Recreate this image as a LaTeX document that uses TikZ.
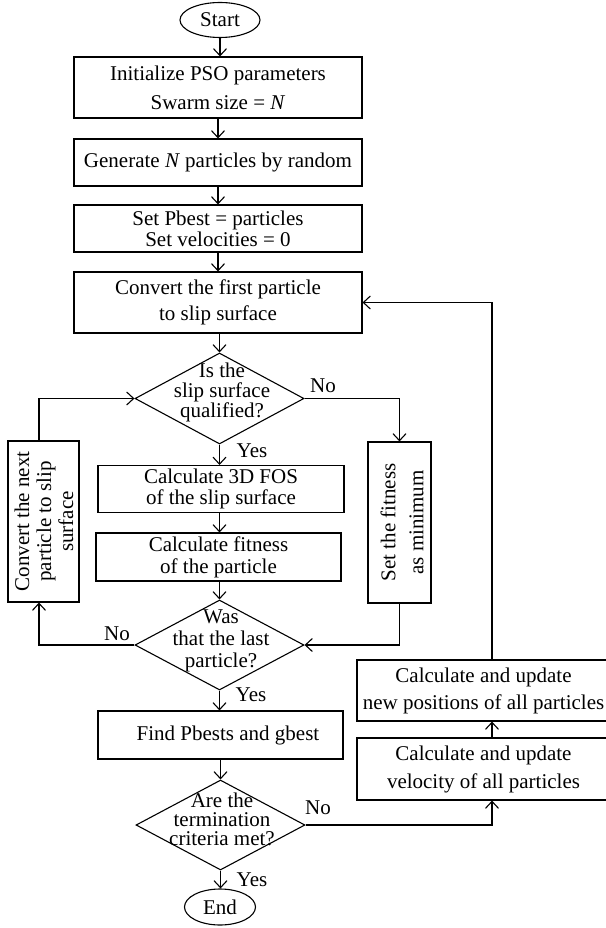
\documentclass[tikz,border=0pt]{standalone}
\usepackage{fontspec}
\setmainfont{Liberation Serif}
\usetikzlibrary{shapes.geometric,arrows.meta,calc}
\begin{document}
\begin{tikzpicture}[x=1pt,y=-1pt,
  every node/.style={inner sep=0pt, font=\fontsize{21}{25}\selectfont},
  box/.style={draw, line width=1.1pt, rectangle, align=center},
  term/.style={draw, line width=1.1pt, ellipse},
  dia/.style={draw, line width=1.1pt, diamond},
  flow/.style={line width=1.1pt, -{Straight Barb[length=7pt,width=13pt]}}]
\useasboundingbox (0,0) rectangle (605,928);

\node[term, minimum width=80pt, minimum height=35pt] (start) at (220,20) {Start};
\node[box, minimum width=288pt, minimum height=61pt, font=\fontsize{21}{29}\selectfont] (init) at (218,87.5) {Initialize PSO parameters\\Swarm size = \textit{N}};
\node[box, minimum width=288pt, minimum height=47pt] (gen) at (218,162.5) {Generate \textit{N} particles by random};
\node[box, minimum width=288pt, minimum height=47pt, font=\fontsize{21}{21}\selectfont] (pbest) at (218,228.5) {Set Pbest = particles\\Set velocities = 0};
\node[box, minimum width=288pt, minimum height=61pt, font=\fontsize{21}{26}\selectfont] (conv1) at (218,302.5) {Convert the first particle\\to slip surface};

\node[dia, minimum width=169pt, minimum height=91pt] (d1) at (219.5,398.5) {};
\node[align=center, font=\fontsize{21}{20}\selectfont] (d1t) at (222,392) {Is the\\slip surface\\qualified?};

\node[box, minimum width=246pt, minimum height=47pt, font=\fontsize{21}{21}\selectfont] (fos) at (221,489) {Calculate 3D FOS\\of the slip surface};
\node[box, minimum width=245pt, minimum height=48pt, font=\fontsize{21}{22}\selectfont] (fit) at (218.5,557) {Calculate fitness\\of the particle};

\node[box, minimum width=63pt, minimum height=161pt] (setmin) at (399.5,522.5) {};
\node[rotate=90, align=center, font=\fontsize{21}{28}\selectfont] (setmint) at (402,522.5) {Set the fitness\\as minimum};
\node[box, minimum width=71pt, minimum height=161pt] (convnext) at (43.5,521.5) {};
\node[rotate=90, align=center, font=\fontsize{21}{22}\selectfont] (convnextt) at (44,521.5) {Convert the next\\particle to slip\\surface};

\node[dia, minimum width=169pt, minimum height=90pt] (d2) at (219.5,645) {};
\node[align=center, font=\fontsize{21}{22}\selectfont] (d2t) at (221,641) {Was\\that the last\\particle?};

\node[box, minimum width=245pt, minimum height=48pt] (find) at (220.5,735) {\hspace*{15pt}Find Pbests and gbest};
\node[dia, minimum width=169pt, minimum height=90pt] (d3) at (220.5,825) {};
\node[align=center, font=\fontsize{21}{19}\selectfont] (d3t) at (222,819) {Are the\\termination\\criteria met?};
\node[term, minimum width=71pt, minimum height=36pt] (end) at (220,907) {End};

\node[box, minimum width=253pt, minimum height=61pt, font=\fontsize{21}{27}\selectfont] (pos) at (483.5,690.5) {Calculate and update\\new positions of all particles};
\node[box, minimum width=253pt, minimum height=62pt, font=\fontsize{21}{28}\selectfont] (vel) at (483.5,769) {Calculate and update\\velocity of all particles};

\coordinate (fbx) at (492,0);

\draw[flow] (start.south) -- (start.south |- init.north);
\draw[flow] (init.south) -- (gen.north);
\draw[flow] (gen.south) -- (pbest.north);
\draw[flow] (pbest.south) -- (conv1.north);
\draw[flow] (conv1.south -| d1.north) -- (d1.north);
\draw[flow] (d1.east) -| (setmin.north);
\draw[flow] (d1.south) -- (d1.south |- fos.north);
\draw[flow] (d1.south |- fos.south) -- (d1.south |- fit.north);
\draw[flow] (d1.south |- fit.south) -- (d2.north);
\draw[flow] (setmin.south) |- (d2.east);
\draw[flow] (d2.west) -| ([xshift=-4.5pt]convnext.south);
\draw[flow] ([xshift=-4.5pt]convnext.north) |- (d1.west);
\draw[flow] (d2.south) -- (d2.south |- find.north);
\draw[flow] (find.south -| d3.north) -- (d3.north);
\draw[flow] (d3.east) -| (fbx |- vel.south);
\draw[flow] (fbx |- vel.north) -- (fbx |- pos.south);
\draw[flow] (fbx |- pos.north) |- (conv1.east);
\draw[flow] (d3.south) -- (d3.south |- end.north);

\node (no1) at (323,386) {No};
\node (yes1) at (252,451) {Yes};
\node (no2) at (117,634) {No};
\node (yes2) at (251,695) {Yes};
\node (no3) at (318,808) {No};
\node (yes3) at (252,880) {Yes};
\end{tikzpicture}
\end{document}
